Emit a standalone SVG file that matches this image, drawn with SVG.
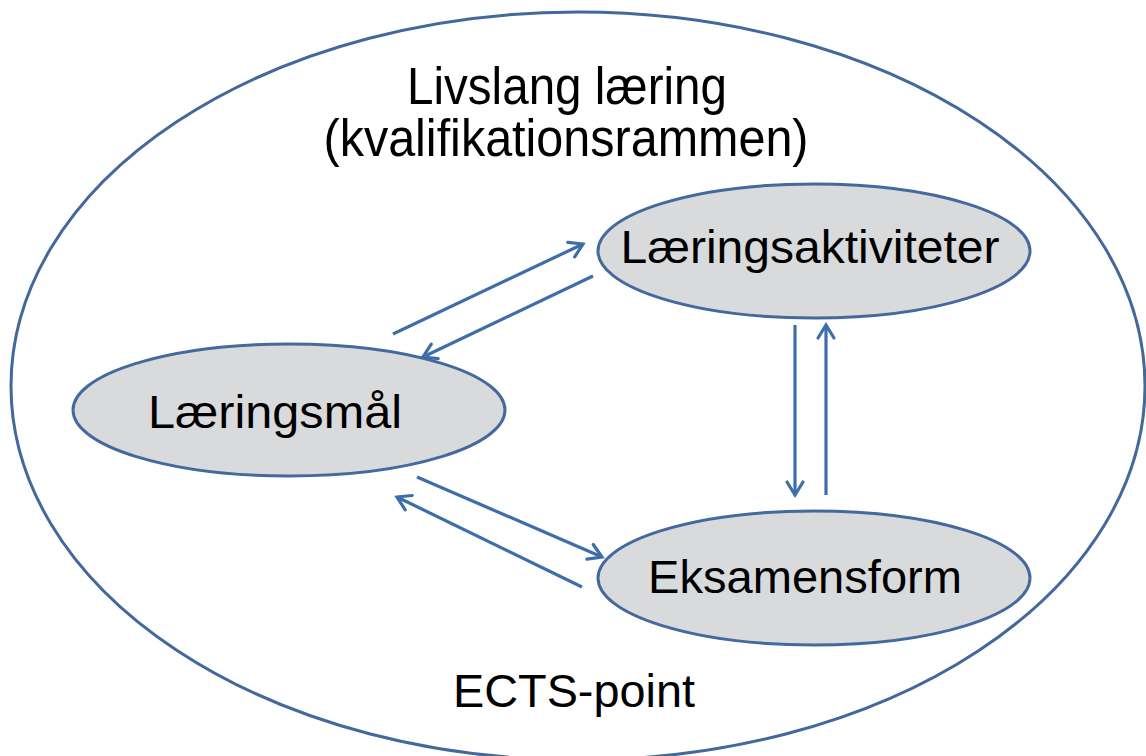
<svg xmlns="http://www.w3.org/2000/svg" width="1146" height="756" viewBox="0 0 1146 756">
<style>
.outer{fill:#ffffff;stroke:#43689b;stroke-width:3}
.node{fill:#d9dadc;stroke:#43699e;stroke-width:3}
.lbl{font-family:"Liberation Sans",Arial,sans-serif;fill:#000000;text-anchor:middle}
.conn{stroke:#3e6dab;stroke-width:3.2;fill:none;marker-end:url(#ah)}
</style>
<defs>
<marker id="ah" markerUnits="userSpaceOnUse" markerWidth="22" markerHeight="22" viewBox="0 0 22 22" refX="17" refY="11" orient="auto">
<path d="M4,3 L17,11 L4,19" fill="none" stroke="#3e6dab" stroke-width="3.2" stroke-linecap="round" stroke-linejoin="miter"/>
</marker>
</defs>
<rect width="1146" height="756" fill="#ffffff"/>
<g id="outer">
<ellipse class="outer" cx="578" cy="386" rx="567" ry="374"/>
<text class="lbl" x="567" y="104" font-size="51" textLength="320" lengthAdjust="spacingAndGlyphs">Livslang læring</text>
<text class="lbl" x="566" y="156" font-size="51" textLength="485" lengthAdjust="spacingAndGlyphs">(kvalifikationsrammen)</text>
<text class="lbl" x="574" y="707" font-size="46" textLength="242" lengthAdjust="spacingAndGlyphs">ECTS-point</text>
</g>
<g id="connectors">
<line class="conn" x1="393" y1="334" x2="583" y2="244"/>
<line class="conn" x1="593" y1="276" x2="423" y2="357"/>
<line class="conn" x1="417" y1="477" x2="602" y2="557"/>
<line class="conn" x1="582" y1="587" x2="397" y2="497"/>
<line class="conn" x1="795" y1="325" x2="795" y2="495"/>
<line class="conn" x1="826" y1="495" x2="826" y2="325"/>
</g>
<g id="laeringsmaal">
<ellipse class="node" cx="289" cy="410" rx="216" ry="66"/>
<text class="lbl" x="275" y="428" font-size="47" textLength="254" lengthAdjust="spacingAndGlyphs">Læringsmål</text>
</g>
<g id="laeringsaktiviteter">
<ellipse class="node" cx="814" cy="251" rx="216" ry="67"/>
<text class="lbl" x="810" y="263" font-size="46" textLength="379" lengthAdjust="spacingAndGlyphs">Læringsaktiviteter</text>
</g>
<g id="eksamensform">
<ellipse class="node" cx="814" cy="578" rx="216" ry="67"/>
<text class="lbl" x="805" y="593" font-size="46" textLength="314" lengthAdjust="spacingAndGlyphs">Eksamensform</text>
</g>
</svg>
